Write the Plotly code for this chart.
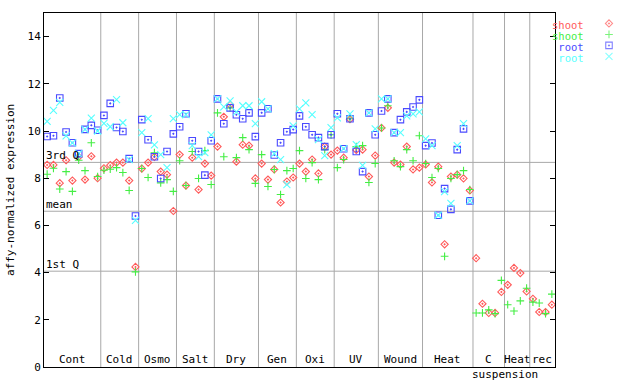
import plotly.graph_objects as go

groups = ["Cont", "Cold", "Osmo", "Salt", "Dry", "Gen", "Oxi", "UV", "Wound", "Heat", "C", "Heat", "rec"]
group_sizes = [9, 6, 6, 6, 7, 6, 6, 7, 7, 8, 5, 4, 4]

shoot_red = [8.56, 8.56, 7.79, 8.76, 7.90, 8.90, 7.94, 8.93, 8.00,
             8.42, 8.55, 8.66, 8.66, 7.90, 4.24,
             8.41, 8.66, 8.90, 8.28, 8.15, 6.61,
             9.00, 7.69, 8.87, 7.52, 8.62, 8.11,
             9.34, 10.60, 11.11, 8.70, 9.42, 9.38, 7.99,
             8.62, 7.94, 8.37, 6.97, 7.86, 8.03,
             8.62, 8.28, 8.79, 8.20, 9.34, 9.00,
             9.17, 8.87, 10.50, 9.20, 9.21, 8.07, 8.96,
             10.13, 10.98, 8.66, 8.58, 9.34, 8.37, 8.45,
             8.58, 7.82, 8.49, 5.20, 8.07, 8.15, 7.99, 7.48,
             4.61, 2.68, 2.29, 2.29, 3.18,
             3.48, 4.20, 3.98, 3.20,
             2.89, 2.33, 2.33, 2.64]

shoot_green = [8.17, 8.42, 7.54, 8.28, 7.44, 8.76, 8.32, 9.50, 8.07,
               8.34, 8.38, 8.45, 8.24, 7.48, 4.03,
               8.41, 8.03, 9.08, 7.80, 7.94, 7.44,
               8.74, 7.69, 9.13, 7.99, 9.17, 7.73,
               10.77, 8.91, 10.98, 8.87, 9.72, 9.21, 7.78,
               9.00, 7.65, 8.37, 7.31, 8.32, 8.41,
               9.17, 7.99, 8.66, 7.94, 9.21, 9.84,
               8.45, 8.79, 10.52, 9.34, 9.38, 7.82, 8.62,
               10.13, 11.07, 8.74, 8.49, 9.21, 8.74, 9.80,
               8.62, 8.03, 8.41, 4.69, 7.99, 8.15, 8.32, 7.52,
               2.29, 2.29, 2.42, 2.26, 3.67,
               2.64, 2.37, 2.80, 3.34,
               2.75, 2.71, 2.26, 3.09]

root_blue = [9.77, 9.80, 11.40, 9.96, 9.50, 9.04, 10.07, 10.24, 10.03,
             10.66, 11.17, 10.15, 9.98, 8.83, 6.40,
             10.48, 9.63, 8.91, 7.99, 9.13, 9.88,
             10.18, 10.73, 9.59, 9.13, 8.13, 9.59,
             11.36, 10.31, 10.98, 10.69, 10.52, 10.77, 9.76,
             10.77, 10.94, 8.98, 9.50, 9.97, 10.06,
             10.64, 10.18, 9.84, 9.72, 9.34, 9.84,
             10.73, 9.25, 10.52, 9.13, 8.28, 10.77, 9.84,
             10.85, 11.36, 9.93, 10.48, 10.81, 11.02, 11.32,
             9.38, 9.49, 6.43, 7.56, 6.68, 9.21, 10.09, 7.04,
             None, None, None, None, None,
             None, None, None, None,
             None, None, None, None]

root_cyan = [10.41, 10.87, 11.21, 9.79, 9.50, 9.04, 10.07, 10.55, 10.00,
             10.32, 10.18, 11.33, 10.35, 8.79, 6.21,
             9.93, 10.52, 9.41, 9.00, 8.45, 10.52,
             10.69, 10.69, 9.38, 8.91, 9.08, 9.84,
             11.36, 11.02, 11.28, 10.81, 11.07, 11.07, 10.31,
             11.24, 10.94, 9.04, 8.79, 7.73, 10.22,
             10.94, 11.19, 10.69, 9.63, 8.96, 10.14,
             10.56, 9.25, 10.73, 9.42, 8.54, 10.77, 10.09,
             11.36, 11.36, 9.93, 9.93, 10.64, 10.73, 10.81,
             9.67, 9.38, 6.43, 7.43, 6.93, 9.38, 10.31, 7.04,
             None, None, None, None, None,
             None, None, None, None,
             None, None, None, None]

q3_value = 8.67
mean_value = 6.60
q1_value = 4.06

y_ticks = [0, 2, 4, 6, 8, 10, 12, 14]

RED = "#ff5a5a"
GREEN = "#44ee44"
BLUE = "#4a4aff"
CYAN = "#55ffff"
GRID = "#a8a8a8"
FONT = "DejaVu Sans Mono"

n = sum(group_sizes)
xs = list(range(n))

fig = go.Figure()
series = [
    ("shoot", shoot_red, RED, "diamond-open-dot", 5.5),
    ("shoot", shoot_green, GREEN, "cross-thin-open", 5.5),
    ("root", root_blue, BLUE, "square-open-dot", 6.5),
    ("root", root_cyan, CYAN, "x-thin-open", 7),
]
for name, vals, col, sym, sz in series:
    fig.add_trace(go.Scatter(
        x=xs, y=vals, mode="markers", name=name, showlegend=False,
        marker=dict(symbol=sym, size=sz, color=col, line=dict(color=col, width=1.1)),
        xaxis="x", yaxis="y", cliponaxis=False))

# legend keys drawn on an auxiliary axis (pixel-like coordinates)
leg_top = 17.5
leg_step = 11.05
leg_y = [leg_top + 6 + i * leg_step for i in range(4)]
fig.add_trace(go.Scatter(
    x=[609] * 4, y=leg_y, mode="markers", showlegend=False, hoverinfo="skip",
    marker=dict(symbol=[s[3] for s in series], size=[s[4] for s in series],
                color=[s[2] for s in series],
                line=dict(color=[s[2] for s in series], width=1.1)),
    xaxis="x2", yaxis="y2"))

shapes = []
pos = 0
bounds = []
for s in group_sizes[:-1]:
    pos += s
    bounds.append(pos - 0.5)
for b in bounds:
    shapes.append(dict(type="line", xref="x", yref="y", x0=b, x1=b, y0=0, y1=15,
                       line=dict(color=GRID, width=1), layer="below"))
for v in [q3_value, mean_value, q1_value]:
    shapes.append(dict(type="line", xref="x", yref="y", x0=-0.5, x1=n - 0.5, y0=v, y1=v,
                       line=dict(color=GRID, width=1), layer="below"))

annotations = []
for label, v in [("3rd Q", q3_value), ("mean", mean_value), ("1st Q", q1_value)]:
    annotations.append(dict(text=label, xref="x", yref="y", x=-0.5, y=v, xanchor="left",
                            yanchor="bottom", showarrow=False, yshift=-2,
                            font=dict(family=FONT, size=11, color="black")))
start = 0
for g, s in zip(groups, group_sizes):
    center = start + (s - 1) / 2
    annotations.append(dict(text=g, xref="x", yref="paper", x=center, y=0, xanchor="center",
                            yanchor="bottom", showarrow=False, yshift=-1,
                            font=dict(family=FONT, size=11, color="black")))
    start += s
c_end = sum(group_sizes[:11]) - 0.5
annotations.append(dict(text="suspension", xref="x", yref="paper", x=c_end, y=0,
                        xanchor="center", yanchor="middle", showarrow=False, yshift=-7.5,
                        font=dict(family=FONT, size=11, color="black")))
legend_lines = "<br>".join(
    '<span style="color:%s;font-size:10.5px">%s</span>' % (col, name)
    for name, vals, col, sym, sz in series)
annotations.append(dict(text=legend_lines, xref="x2", yref="y2", x=586, y=leg_top,
                        xanchor="right", yanchor="top", align="right", showarrow=False,
                        font=dict(family=FONT, size=8.5, color="black")))
annotations.append(dict(text="affy-normalized expression", xref="paper", yref="paper",
                        x=-0.058, y=0.5, textangle=-90, xanchor="center", yanchor="middle",
                        showarrow=False, font=dict(family=FONT, size=11, color="black")))

L, R, T, B = 44, 10, 13, 15
paper_w = 640 - L - R
main_frac = 511 / paper_w
x2_start = main_frac + 0.01
x2_lo = L + x2_start * paper_w

fig.update_layout(
    width=640, height=384,
    margin=dict(l=L, r=R, t=T, b=B),
    paper_bgcolor="white", plot_bgcolor="white",
    font=dict(family=FONT, size=11, color="black"),
    xaxis=dict(domain=[0, main_frac], range=[-0.5, n - 0.5], showticklabels=False,
               ticks="", showgrid=False, zeroline=False, showline=True, linecolor="black",
               linewidth=1, mirror=True),
    yaxis=dict(range=[0, 15], tickvals=y_ticks, ticks="inside", ticklen=5, tickcolor="black",
               showgrid=False, zeroline=False, showline=True, linecolor="black", linewidth=1,
               mirror="ticks", tickfont=dict(family=FONT, size=11)),
    xaxis2=dict(domain=[x2_start, 1], range=[x2_lo, 630], visible=False, anchor="y2"),
    yaxis2=dict(domain=[0, 1], range=[384 - B, T], visible=False, anchor="x2"),
    shapes=shapes, annotations=annotations,
)

fig.write_html("out.html", config={"displayModeBar": False},
               post_script="document.body.style.margin='0';document.body.style.padding='0';")
